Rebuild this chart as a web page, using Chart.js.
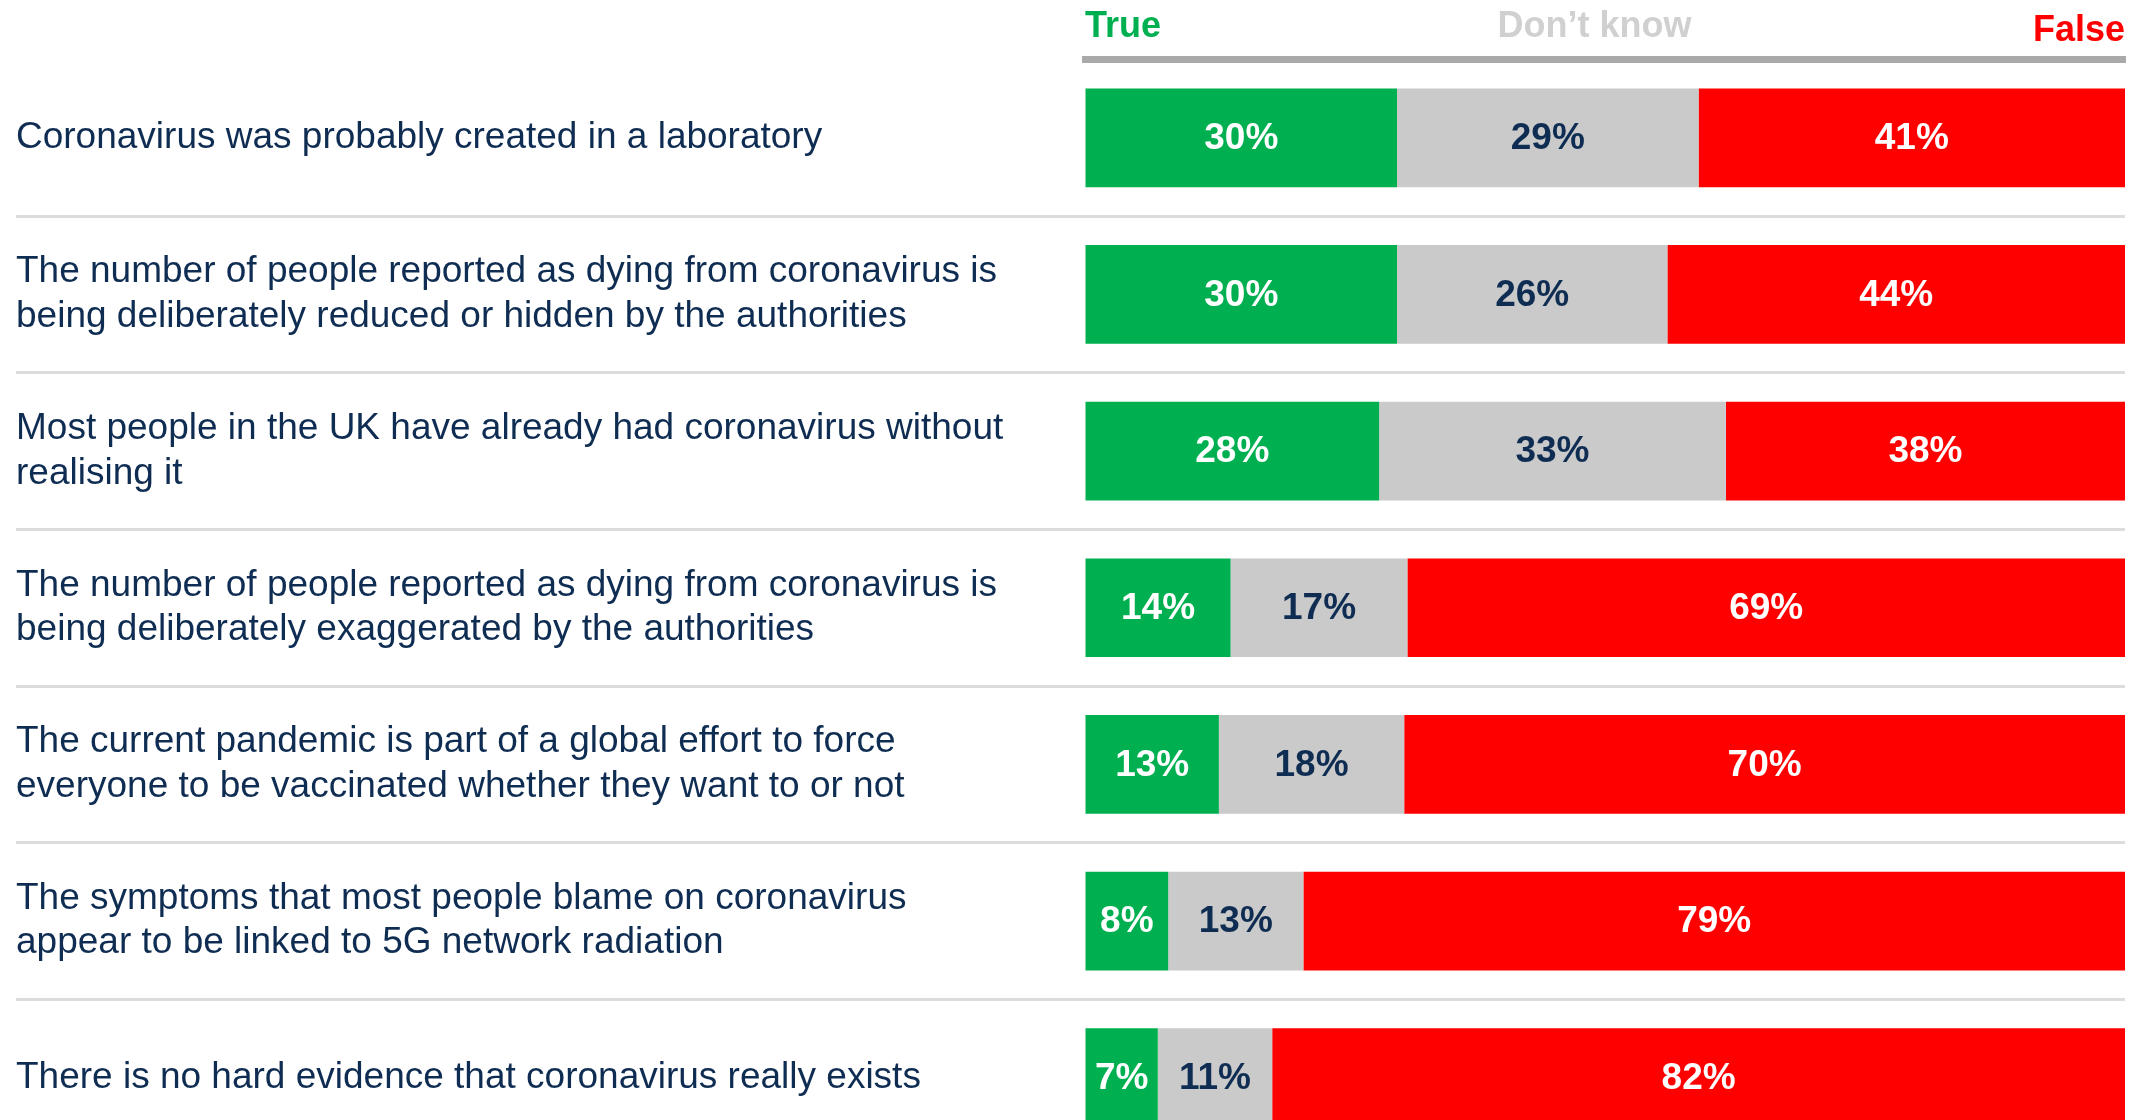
<!DOCTYPE html>
<html>
<head>
<meta charset="utf-8">
<title>Coronavirus beliefs</title>
<script src="https://cdn.jsdelivr.net/npm/chart.js@4.4.0/dist/chart.umd.min.js"></script>
<style>
    html, body { margin: 0; padding: 0; background: #fff; overflow: hidden; width: 2143px; height: 1120px; }
    #wrap { position: relative; width: 2143px; height: 1162px; }
</style>
</head>
<body>
<div id="wrap"><canvas id="chart"></canvas></div>
<script>
const statements = [
    'Coronavirus was probably created in a laboratory',
    ['The number of people reported as dying from coronavirus is', 'being deliberately reduced or hidden by the authorities'],
    ['Most people in the UK have already had coronavirus without', 'realising it'],
    ['The number of people reported as dying from coronavirus is', 'being deliberately exaggerated by the authorities'],
    ['The current pandemic is part of a global effort to force', 'everyone to be vaccinated whether they want to or not'],
    ['The symptoms that most people blame on coronavirus', 'appear to be linked to 5G network radiation'],
    'There is no hard evidence that coronavirus really exists'
];
const trueVals = [30, 30, 28, 14, 13, 8, 7];
const dontKnowVals = [29, 26, 33, 17, 18, 13, 11];
const falseVals = [41, 44, 38, 69, 70, 79, 82];

const headerLabels = ['True', 'Don\u2019t know', 'False'];
const headerTicks = [0, 49, 100];
const headerColors = ['#00b050', '#d0d0d0', '#ff0000'];

const FONT = '"Liberation Sans", Arial, sans-serif';
const NAVY = '#0f2d52';

// bars are 100% stacked, so each row is scaled to its own total
const totals = trueVals.map((v, i) => v + dontKnowVals[i] + falseVals[i]);
const share = vals => vals.map((v, i) => v / totals[i] * 100);

// draws the percentage inside each bar segment
const valueLabels = {
    id: 'valueLabels',
    afterDatasetsDraw(chart) {
        const ctx = chart.ctx;
        ctx.save();
        ctx.font = 'bold 37px ' + FONT;
        ctx.textAlign = 'center';
        ctx.textBaseline = 'middle';
        chart.data.datasets.forEach((ds, i) => {
            chart.getDatasetMeta(i).data.forEach((bar, j) => {
                const p = bar.getCenterPoint();
                ctx.fillStyle = ds.textColor;
                ctx.fillText(ds.pct[j] + '%', p.x, p.y + 1);
            });
        });
        ctx.restore();
    }
};

const ctx = document.getElementById('chart').getContext('2d');
new Chart(ctx, {
    type: 'bar',
    data: {
        labels: statements,
        datasets: [
            { label: 'True', data: share(trueVals), pct: trueVals, backgroundColor: '#00b050', textColor: '#ffffff' },
            { label: 'Don\u2019t know', data: share(dontKnowVals), pct: dontKnowVals, backgroundColor: '#cacaca', textColor: NAVY },
            { label: 'False', data: share(falseVals), pct: falseVals, backgroundColor: '#ff0000', textColor: '#ffffff' }
        ]
    },
    options: {
        indexAxis: 'y',
        responsive: true,
        maintainAspectRatio: false,
        animation: false,
        layout: { padding: { left: 16, right: 18, top: 0, bottom: 6 } },
        datasets: {
            bar: { categoryPercentage: 1, barPercentage: 0.63, borderWidth: 0, clip: 0 }
        },
        plugins: {
            legend: { display: false },
            tooltip: { enabled: false }
        },
        scales: {
            x: {
                position: 'top',
                stacked: true,
                min: 0,
                max: 100,
                afterBuildTicks: scale => { scale.ticks = headerTicks.map(v => ({ value: v })); },
                afterFit: scale => { scale.height = 59.5; },
                grid: { display: true, drawOnChartArea: false, drawTicks: false },
                border: { display: true, color: '#a9a9a9', width: 7 },
                ticks: {
                    align: 'inner',
                    padding: 11,
                    maxRotation: 0,
                    autoSkip: false,
                    callback: (v, i) => headerLabels[i],
                    color: c => headerColors[c.index],
                    // "False" sits a little lower than the other two headings
                    font: c => ({ family: FONT, size: 36, weight: 'bold', lineHeight: c.index === 2 ? 0.98 : 1.2 })
                }
            },
            y: {
                stacked: true,
                afterFit: scale => {
                    scale.width = 1069;
                    scale.paddingTop = 0;
                    scale.paddingBottom = 0;
                },
                border: { display: false },
                grid: {
                    offset: true,
                    lineWidth: 3,
                    tickLength: 1069,
                    color: c => c.index === 0 ? 'rgba(0,0,0,0)' : '#dcdcdc'
                },
                ticks: {
                    crossAlign: 'far',
                    autoSkip: false,
                    color: NAVY,
                    font: { family: FONT, size: 37, lineHeight: 1.2 }
                }
            }
        }
    },
    plugins: [valueLabels]
});
</script>
</body>
</html>
